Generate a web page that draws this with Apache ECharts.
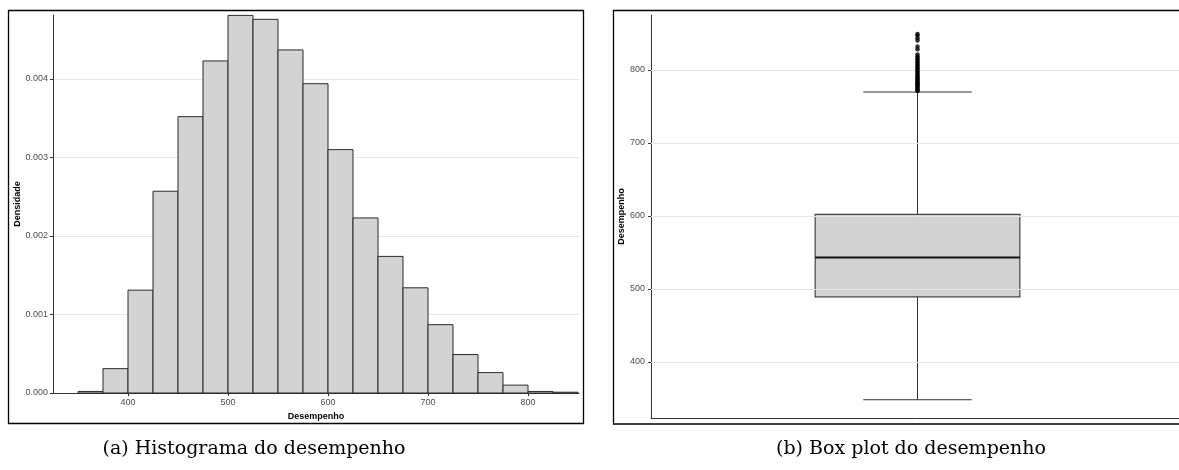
<!DOCTYPE html>
<html>
<head>
<meta charset="utf-8">
<script src="https://cdn.jsdelivr.net/npm/echarts@6/dist/echarts.min.js"></script>
<style>
  html, body { margin: 0; padding: 0; background: #fff; }
  #chart { width: 1179px; height: 470px; }
</style>
</head>
<body>
<div id="chart"></div>
<script>
// Histogram: bin edges (width 25) and density per bin
const binEdges = [350, 375, 400, 425, 450, 475, 500, 525, 550, 575, 600,
                  625, 650, 675, 700, 725, 750, 775, 800, 825, 850];
const density = [0.00002, 0.00031, 0.00131, 0.00257, 0.00352, 0.00423, 0.00481,
                 0.00476, 0.00437, 0.00394, 0.00310, 0.00223, 0.00174, 0.00134,
                 0.00087, 0.00049, 0.00026, 0.00010, 0.00002, 0.00001];
const histXTicks = [400, 500, 600, 700, 800];

// Box plot: [lower whisker, Q1, median, Q3, upper whisker] and outliers
const boxCategory = ['Desempenho'];
const boxStats = [348, 489, 543, 602, 769.5];
const outliers = [771, 772, 774, 775, 777, 778, 780, 781, 783, 784, 786, 787, 789,
                  790, 792, 794, 796, 798, 800, 802, 804, 806, 808, 810, 812, 814,
                  816, 818, 821, 828, 832, 840, 843, 847, 849];
const boxYTicks = [400, 500, 600, 700, 800];

const histData = density.map((d, i) => [binEdges[i], binEdges[i + 1], d]);
const boxData = [[0].concat(boxStats)];
const outlierData = outliers.map(v => [0, v]);

const SANS = 'Liberation Sans, Arial, sans-serif';
const tickLabel = { color: '#4d4d4d', fontSize: 9, fontFamily: SANS };
const axisName = { color: '#000', fontSize: 9, fontWeight: 'bold', fontFamily: SANS };
const axisStroke = { show: true, lineStyle: { color: '#333', width: 1 } };

const chart = echarts.init(document.getElementById('chart'), null, { renderer: 'canvas' });

chart.setOption({
  backgroundColor: '#fff',
  animation: false,
  grid: [
    { left: 53, top: 15, width: 526, height: 378, outerBoundsMode: 'none' },
    { left: 651, top: 15, width: 533, height: 403, outerBoundsMode: 'none' }
  ],
  xAxis: [
    {
      gridIndex: 0, type: 'value', min: 325, max: 851,
      name: 'Desempenho', nameLocation: 'middle', nameGap: 14, nameTextStyle: axisName,
      axisLine: axisStroke,
      axisTick: { show: true, length: 3, customValues: histXTicks, lineStyle: { color: '#333' } },
      axisLabel: Object.assign({ margin: 5, customValues: histXTicks }, tickLabel),
      splitLine: { show: false }
    },
    {
      gridIndex: 1, type: 'category', data: boxCategory, boundaryGap: true,
      axisLine: axisStroke,
      axisTick: { show: false },
      axisLabel: { show: false },
      splitLine: { show: false }
    }
  ],
  yAxis: [
    {
      gridIndex: 0, type: 'value', min: 0, max: 0.004815, interval: 0.001,
      name: 'Densidade', nameLocation: 'middle', nameGap: 30, nameRotate: 90,
      nameTextStyle: axisName,
      axisLine: axisStroke,
      axisTick: { show: true, length: 3, lineStyle: { color: '#333' } },
      axisLabel: Object.assign({
        margin: 5,
        formatter: v => v.toFixed(3),
        showMaxLabel: false
      }, tickLabel),
      splitLine: { show: true, showMaxLine: false, showMinLine: false,
                   lineStyle: { color: '#e6e6e6', width: 1 } }
    },
    {
      gridIndex: 1, type: 'value', min: 323, max: 875,
      name: 'Desempenho', nameLocation: 'middle', nameGap: 22, nameRotate: 90,
      nameTextStyle: axisName,
      axisLine: axisStroke,
      axisTick: { show: true, length: 3, customValues: boxYTicks, lineStyle: { color: '#333' } },
      axisLabel: Object.assign({ margin: 6, customValues: boxYTicks }, tickLabel),
      splitLine: { show: false }
    }
  ],
  series: [
    {
      type: 'custom',
      xAxisIndex: 0, yAxisIndex: 0,
      data: histData,
      renderItem: function (params, api) {
        const p0 = api.coord([api.value(0), api.value(2)]);
        const p1 = api.coord([api.value(1), 0]);
        return {
          type: 'rect',
          shape: { x: p0[0], y: p0[1], width: p1[0] - p0[0], height: p1[1] - p0[1] },
          style: { fill: '#d3d3d3', stroke: '#2a2a2a', lineWidth: 1 }
        };
      }
    },
    {
      // horizontal reference lines on the box plot panel
      type: 'line',
      xAxisIndex: 1, yAxisIndex: 1,
      data: [],
      silent: true,
      markLine: {
        symbol: 'none', silent: true, label: { show: false },
        lineStyle: { color: '#e6e6e6', width: 1, type: 'solid' },
        data: boxYTicks.map(v => ({ yAxis: v }))
      }
    },
    {
      type: 'custom',
      xAxisIndex: 1, yAxisIndex: 1,
      data: boxData,
      renderItem: function (params, api) {
        const cat = api.value(0);
        const lo = api.coord([cat, api.value(1)]);
        const q1 = api.coord([cat, api.value(2)]);
        const md = api.coord([cat, api.value(3)]);
        const q3 = api.coord([cat, api.value(4)]);
        const hi = api.coord([cat, api.value(5)]);
        const band = api.size([1, 0])[0];
        const half = band * 0.192;
        const capHalf = band * 0.1017;
        const cx = md[0];
        const ink = { stroke: '#333', lineWidth: 1 };
        return {
          type: 'group',
          children: [
            { type: 'line', shape: { x1: cx, y1: q3[1], x2: cx, y2: hi[1] }, style: ink },
            { type: 'line', shape: { x1: cx, y1: q1[1], x2: cx, y2: lo[1] }, style: ink },
            { type: 'line', shape: { x1: cx - capHalf, y1: hi[1], x2: cx + capHalf, y2: hi[1] }, style: ink },
            { type: 'line', shape: { x1: cx - capHalf, y1: lo[1], x2: cx + capHalf, y2: lo[1] }, style: ink },
            { type: 'rect', shape: { x: cx - half, y: q3[1], width: 2 * half, height: q1[1] - q3[1] },
              style: { fill: '#d3d3d3', stroke: '#444', lineWidth: 1.2 } },
            { type: 'line', shape: { x1: cx - half, y1: md[1], x2: cx + half, y2: md[1] },
              style: { stroke: '#111', lineWidth: 2 } }
          ]
        };
      }
    },
    {
      type: 'scatter',
      xAxisIndex: 1, yAxisIndex: 1,
      data: outlierData,
      symbol: 'circle', symbolSize: 4.5,
      itemStyle: { color: '#000' },
      z: 5
    }
  ],
  graphic: [
    { type: 'rect', shape: { x: 8.5, y: 10.5, width: 575, height: 413 },
      style: { fill: 'none', stroke: '#000', lineWidth: 1.3 }, z: 100 },
    { type: 'rect', shape: { x: 613.5, y: 10.5, width: 600, height: 413.5 },
      style: { fill: 'none', stroke: '#000', lineWidth: 1.3 }, z: 100 },
    { type: 'text', x: 254, y: 449,
      style: { text: '(a) Histograma do desempenho', fill: '#000', font: '19px "DejaVu Serif", serif',
               textAlign: 'center', textVerticalAlign: 'middle' } },
    { type: 'text', x: 911, y: 449,
      style: { text: '(b) Box plot do desempenho', fill: '#000', font: '19px "DejaVu Serif", serif',
               textAlign: 'center', textVerticalAlign: 'middle' } }
  ]
});
</script>
</body>
</html>
